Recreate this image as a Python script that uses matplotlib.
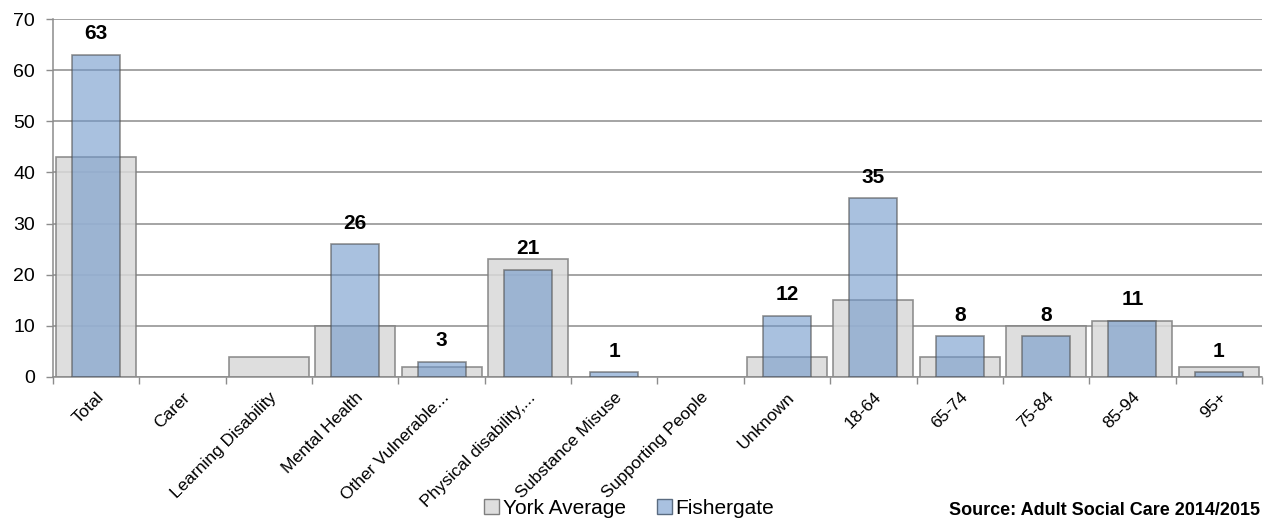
import matplotlib
matplotlib.use("Agg")
import matplotlib.pyplot as plt
import numpy as np
from matplotlib.patches import Patch

categories = ["Total", "Carer", "Learning Disability", "Mental Health",
              "Other Vulnerable...", "Physical disability,...", "Substance Misuse",
              "Supporting People", "Unknown", "18-64", "65-74", "75-84", "85-94", "95+"]
york_avg = [43, 0, 4, 10, 2, 23, 0, 0, 4, 15, 4, 10, 11, 2]
fishergate = [63, 0, 0, 26, 3, 21, 1, 0, 12, 35, 8, 8, 11, 1]
y_ticks = [0, 10, 20, 30, 40, 50, 60, 70]

plt.rcParams['font.family'] = ['Liberation Sans', 'DejaVu Sans']

fig = plt.figure(figsize=(12.66, 5.21), dpi=100)
ax = fig.add_axes([0.0419, 0.2764, 0.9549, 0.6871])

x = np.arange(len(categories))
grey_c = '#d9d9d9'
blue_c = (112/255, 152/255, 203/255)
edge_c = '#7f7f7f'

ax.bar(x, york_avg, width=0.925, color=grey_c, alpha=0.85, edgecolor=edge_c,
       linewidth=[1.2 if v else 0 for v in york_avg], zorder=2, label='York Average')
ax.bar(x, fishergate, width=0.556, color=blue_c, alpha=0.6, edgecolor='#4d4d4d',
       linewidth=[1.2 if v else 0 for v in fishergate], zorder=3, label='Fishergate')

for xi, v in zip(x, fishergate):
    if v > 0:
        ax.annotate(str(v), xy=(xi, v), xytext=(0, 15), textcoords='offset points',
                    ha='center', va='center', fontsize=15, fontweight='bold', zorder=5)

ax.set_xlim(-0.5, len(categories) - 0.5)
ax.set_ylim(0, 70)
ax.set_yticks(y_ticks)
ax.set_yticklabels([str(t) for t in y_ticks], fontsize=14)
ax.grid(axis='y', color='#8c8c8c', linewidth=1.1, zorder=0)
ax.set_axisbelow(True)

ax.set_xticks(x)
ax.set_xticklabels(categories, rotation=45, ha='right', va='top',
                   rotation_mode='anchor', fontsize=12.5)
ax.tick_params(axis='x', length=0, pad=9)
ax.set_xticks(np.arange(-0.5, len(categories) + 0.5, 1), minor=True)
ax.tick_params(axis='x', which='minor', length=5, color='#8c8c8c', width=1)
ax.tick_params(axis='y', length=5, color='#8c8c8c', width=1, pad=8)

for s in ['top', 'right']:
    ax.spines[s].set_visible(False)
ax.spines['left'].set_color('#8c8c8c')
ax.spines['bottom'].set_color('#8c8c8c')
ax.spines['left'].set_linewidth(1.1)
ax.spines['bottom'].set_linewidth(1.1)

handles = [Patch(facecolor='#dedede', edgecolor='#7f7f7f', label='York Average'),
           Patch(facecolor='#a9c1e0', edgecolor='#5a6b80', label='Fishergate')]
fig.legend(handles=handles, loc='center', bbox_to_anchor=(0.497, 0.024), ncol=2,
           frameon=False, fontsize=15, handlelength=0.7, handleheight=0.7,
           handletextpad=0.2, columnspacing=1.5, borderpad=0)

fig.text(0.995, 0.004, "Source: Adult Social Care 2014/2015", fontsize=13,
         fontweight='bold', ha='right', va='bottom')

fig.savefig("out.png", dpi=100)
